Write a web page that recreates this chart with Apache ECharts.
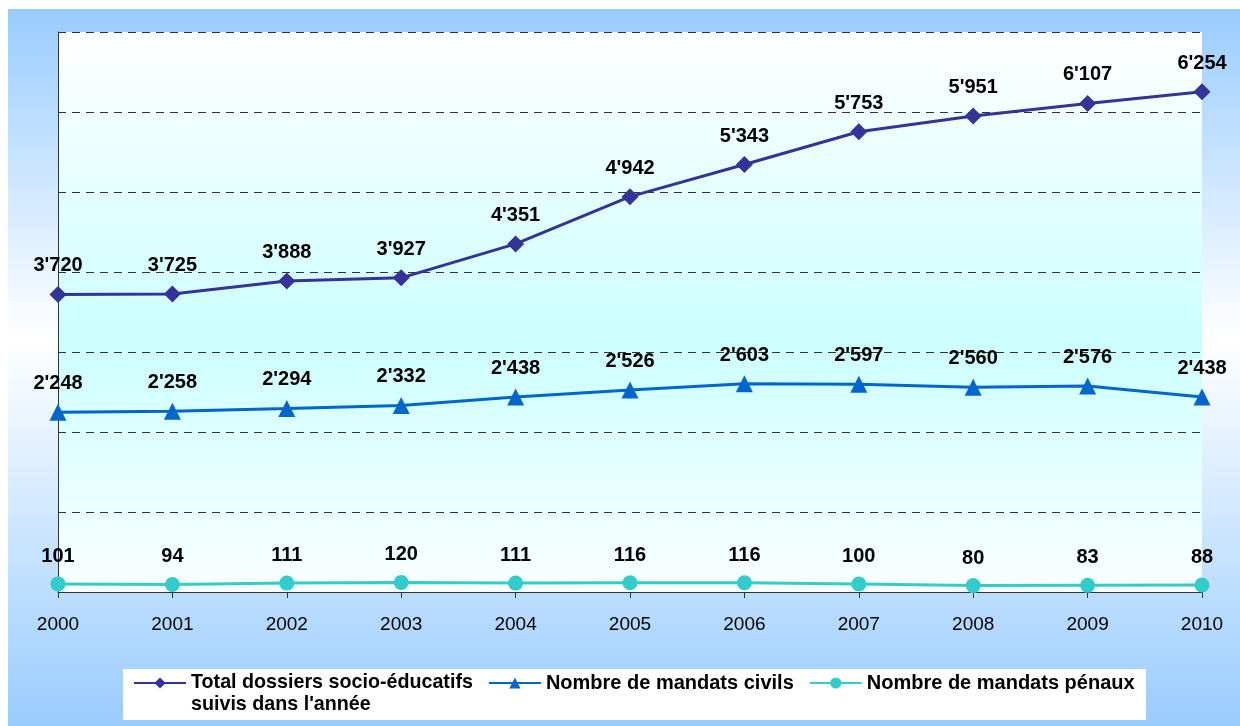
<!DOCTYPE html>
<html>
<head>
<meta charset="utf-8">
<script src="https://cdn.jsdelivr.net/npm/echarts@6/dist/echarts.min.js"></script>
<style>html,body{margin:0;padding:0;background:#fff}#c{width:1240px;height:726px}</style>
</head>
<body>
<div id="c"></div>
<script>
var years = ['2000','2001','2002','2003','2004','2005','2006','2007','2008','2009','2010'];
var totalDossiers = [3720,3725,3888,3927,4351,4942,5343,5753,5951,6107,6254];
var mandatsCivils = [2248,2258,2294,2332,2438,2526,2603,2597,2560,2576,2438];
var mandatsPenaux = [101,94,111,120,111,116,116,100,80,83,88];
var seriesNames = ["Total dossiers socio-éducatifs suivis dans l'année", 'Nombre de mandats civils', 'Nombre de mandats pénaux'];

var FONT = '"Liberation Sans", Arial, sans-serif';
function fmt(v){
  if (v >= 1000) { var r = String(v % 1000); while (r.length < 3) r = '0' + r; return Math.floor(v/1000) + "'" + r; }
  return String(v);
}
var labelStyle = {show:true, position:'top', distance:10, color:'#000', fontFamily:FONT, fontWeight:'bold', fontSize:20, formatter:function(p){return fmt(p.value);}};

var chart = echarts.init(document.getElementById('c'));
chart.setOption({
  backgroundColor:'#ffffff',
  animation:false,
  graphic:{elements:[
    {type:'rect', z:-10, shape:{x:8,y:9,width:1232,height:717},
     style:{fill:new echarts.graphic.LinearGradient(0,0,0,1,[{offset:0,color:'#99CCFF'},{offset:0.46,color:'#FFFFFF'},{offset:1,color:'#99CCFF'}])}},
    {type:'rect', z:-5, shape:{x:123,y:669,width:1023,height:51}, style:{fill:'#FFFFFF'}}
  ]},
  grid:{left:58,right:38,top:32,bottom:134,show:true,borderWidth:0,
    backgroundColor:new echarts.graphic.LinearGradient(0,0,0,1,[{offset:0,color:'#FFFFFF'},{offset:0.55,color:'#CCFFFF'},{offset:1,color:'#FAFFFF'}])},
  legend:{
    left:133, top:650, orient:'horizontal', padding:0,
    itemWidth:52, itemHeight:14, itemGap:15,
    textStyle:{fontFamily:FONT, fontWeight:'bold', fontSize:20, color:'#000', lineHeight:22},
    data:[
      {name:seriesNames[0], textStyle:{fontSize:19.7}},
      {name:seriesNames[1]},
      {name:seriesNames[2]}
    ],
    formatter:function(n){ return n === seriesNames[0] ? " \nTotal dossiers socio-éducatifs\nsuivis dans l'année" : n; }
  },
  xAxis:{type:'category', data:years, boundaryGap:false,
    axisLine:{lineStyle:{color:'#333333',width:1}},
    axisTick:{show:true,length:6,lineStyle:{color:'#333333'}},
    axisLabel:{color:'#000',fontFamily:FONT,fontSize:19,margin:23},
    splitLine:{show:false}},
  yAxis:{type:'value', min:0, max:7000, interval:1000,
    axisLine:{show:true,lineStyle:{color:'#333333',width:1}},
    axisTick:{show:false}, axisLabel:{show:false},
    splitLine:{show:true,lineStyle:{color:'#333333',type:[8,6],width:1}}},
  series:[
    {name:seriesNames[0], type:'line', data:totalDossiers, symbol:'diamond', symbolSize:17,
     lineStyle:{color:'#333399',width:3}, itemStyle:{color:'#333399'}, label:labelStyle},
    {name:seriesNames[1], type:'line', data:mandatsCivils, symbol:'triangle', symbolSize:17,
     lineStyle:{color:'#0066CC',width:3}, itemStyle:{color:'#0066CC'}, label:labelStyle},
    {name:seriesNames[2], type:'line', data:mandatsPenaux, symbol:'circle', symbolSize:15,
     lineStyle:{color:'#33CCCC',width:3}, itemStyle:{color:'#33CCCC'}, label:labelStyle}
  ]
});
</script>
</body>
</html>
